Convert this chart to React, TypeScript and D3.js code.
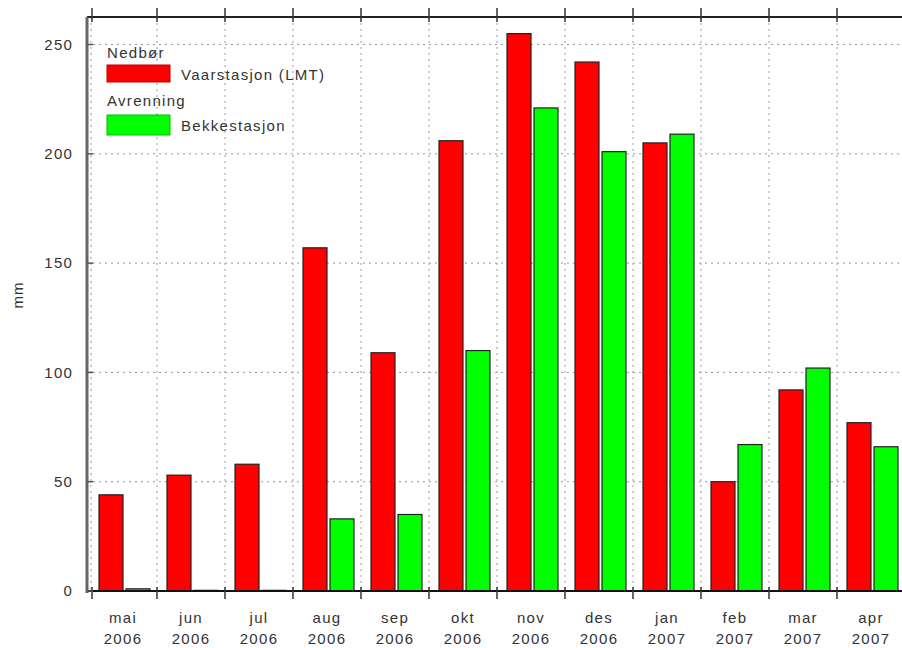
import * as d3 from "d3";

const WIDTH = 902;
const HEIGHT = 648;

const months = ["mai", "jun", "jul", "aug", "sep", "okt", "nov", "des", "jan", "feb", "mar", "apr"];
const years = ["2006", "2006", "2006", "2006", "2006", "2006", "2006", "2006", "2007", "2007", "2007", "2007"];
// Nedbør, Vaarstasjon (LMT)
const precip = [44, 53, 58, 157, 109, 206, 255, 242, 205, 50, 92, 77];
// Avrenning, Bekkestasjon
const runoff = [1, 0.3, 0.3, 33, 35, 110, 221, 201, 209, 67, 102, 66];
const yTicks = [0, 50, 100, 150, 200, 250];

const plot = { left: 87, top: 17, bottom: 591, bandStart: 89, bandStep: 68 };

const FONT = "'Liberation Sans', Arial, sans-serif";
const TEXT = "#333";

export default function App() {
  const y = d3.scaleLinear().domain([0, 262.6]).range([plot.bottom, plot.top]);
  const x = d3
    .scaleBand<number>()
    .domain(d3.range(months.length))
    .range([plot.bandStart, plot.bandStart + plot.bandStep * months.length])
    .paddingInner(0)
    .paddingOuter(0);
  const bw = x.bandwidth();
  const barW = 24;
  const redOff = 10;
  const greenOff = 37;
  const right = WIDTH;

  const boundaries = d3.range(months.length + 1).map((i) => plot.bandStart + i * bw);

  return (
    <svg
      width={WIDTH}
      height={HEIGHT}
      style={{ position: "absolute", left: 0, top: 0, background: "#fff" }}
      fontFamily={FONT}
    >
      {/* grid */}
      {yTicks.slice(1).map((t) => (
        <line
          key={"gy" + t}
          x1={plot.left}
          x2={right}
          y1={y(t)}
          y2={y(t)}
          stroke="#999"
          strokeDasharray="2,4"
        />
      ))}
      {boundaries.map((b, i) => (
        <line
          key={"gx" + i}
          x1={i === 0 ? b + 2 : b}
          x2={i === 0 ? b + 2 : b}
          y1={plot.top}
          y2={plot.bottom}
          stroke="#999"
          strokeDasharray="2,4"
        />
      ))}

      {/* bars */}
      {months.map((m, i) => {
        const x0 = x(i)!;
        return (
          <g key={m + i} stroke="#222" strokeWidth={1.2}>
            <rect x={x0 + redOff} y={y(precip[i])} width={barW} height={plot.bottom - y(precip[i])} fill="#ff0000" />
            <rect x={x0 + greenOff} y={y(runoff[i])} width={barW} height={plot.bottom - y(runoff[i])} fill="#00ff00" />
          </g>
        );
      })}

      {/* frame */}
      <line x1={plot.left} x2={right} y1={plot.top} y2={plot.top} stroke="#222" strokeWidth={2} />
      <line x1={plot.left} x2={right} y1={plot.bottom} y2={plot.bottom} stroke="#111" strokeWidth={2} />
      <line x1={plot.left} x2={plot.left} y1={plot.top} y2={plot.bottom + 2} stroke="#666" strokeWidth={3} />

      {/* ticks */}
      {boundaries.map((b, i) => (
        <g key={"t" + i} stroke="#333" strokeWidth={1.5}>
          <line x1={i === 0 ? b + 3 : b} x2={i === 0 ? b + 3 : b} y1={plot.top - 9} y2={plot.top + 5} />
          <line x1={i === 0 ? b + 3 : b} x2={i === 0 ? b + 3 : b} y1={plot.bottom - 4} y2={plot.bottom + 8} />
        </g>
      ))}
      {yTicks.map((t) => (
        <line key={"yt" + t} x1={plot.left} x2={plot.left + 6} y1={y(t)} y2={y(t)} stroke="#555" strokeWidth={1.5} />
      ))}

      {/* y tick labels */}
      {yTicks.map((t) => (
        <text
          key={"yl" + t}
          x={73}
          y={y(t)}
          dy="0.35em"
          textAnchor="end"
          fontSize={15}
          letterSpacing={1.2}
          fill={TEXT}
        >
          {t}
        </text>
      ))}
      <text
        transform={`translate(23,295) rotate(-90)`}
        textAnchor="middle"
        fontSize={15}
        letterSpacing={1}
        fill={TEXT}
      >
        mm
      </text>

      {/* x labels */}
      {months.map((m, i) => {
        const cx = x(i)! + bw / 2;
        return (
          <g key={"xl" + i} fill={TEXT} fontSize={15} letterSpacing={1.3} textAnchor="middle">
            <text x={cx} y={623}>{m}</text>
            <text x={cx} y={644}>{years[i]}</text>
          </g>
        );
      })}

      {/* legend */}
      <g fill={TEXT} fontSize={15} letterSpacing={1.3}>
        <text x={107} y={58}>Nedbør</text>
        <rect x={107} y={65} width={63} height={17} fill="#ff0000" stroke="#b00" strokeWidth={1} />
        <text x={181} y={80}>Vaarstasjon (LMT)</text>
        <text x={107} y={106}>Avrenning</text>
        <rect x={107} y={115} width={63} height={20} fill="#00ff00" stroke="#0b0" strokeWidth={1} />
        <text x={181} y={131}>Bekkestasjon</text>
      </g>
    </svg>
  );
}
